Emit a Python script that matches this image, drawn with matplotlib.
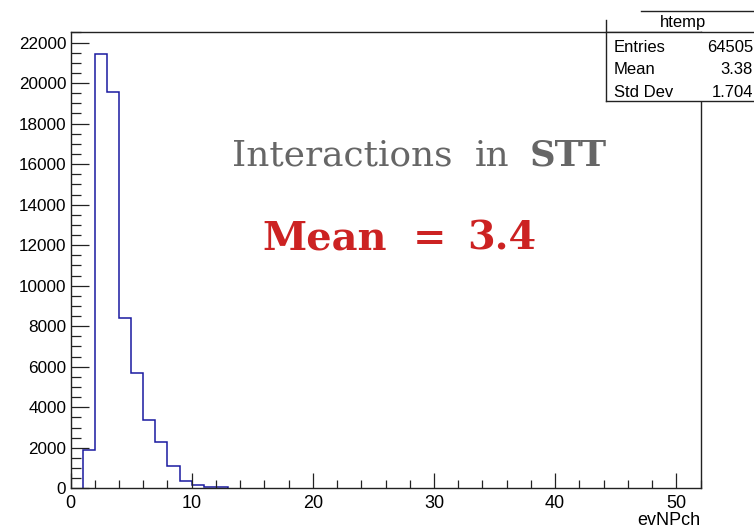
import numpy as np
import matplotlib.pyplot as plt
from matplotlib.patches import Rectangle
from matplotlib.ticker import MultipleLocator

# histogram of evNPch, unit bins starting at 1
bin_lo = 1
counts = [1890, 21450, 19550, 8400, 5670, 3380, 2280, 1110, 370, 180, 65, 65]
x_max = 52

# stats box
stat_names = ["Entries", "Mean", "Std Dev"]
stat_values = ["64505", "3.38", "1.704"]
hist_name = "htemp"
x_title = "evNPch"

W, H = 754, 529
fig = plt.figure(figsize=(W / 100, H / 100), dpi=100)
plt.rcParams['font.family'] = ['Liberation Sans', 'DejaVu Sans']

# frame in pixels: left, right, top, bottom
L, R, T, B = 70.5, 700.5, 32, 488.3
ax = fig.add_axes([L / W, 1 - B / H, (R - L) / W, (B - T) / H])

edges = np.arange(bin_lo, bin_lo + len(counts) + 1)
ax.stairs(counts, edges, baseline=0, color='#1a1aa0', linewidth=1.1)

ax.set_xlim(0, x_max)
ax.set_ylim(0, 1.05 * max(counts))
ax.xaxis.set_major_locator(MultipleLocator(10))
ax.xaxis.set_minor_locator(MultipleLocator(2))
ax.yaxis.set_major_locator(MultipleLocator(2000))
ax.yaxis.set_minor_locator(MultipleLocator(500))
ax.tick_params(axis='x', which='major', direction='in', length=10.8, width=0.9,
               labelsize=13, pad=5, color='#222222')
ax.tick_params(axis='x', which='minor', direction='in', length=5.5, width=0.9, color='#222222')
ax.tick_params(axis='y', which='major', direction='in', length=13, width=0.9,
               labelsize=12.3, pad=3, color='#222222')
ax.tick_params(axis='y', which='minor', direction='in', length=7.2, width=0.9, color='#222222')
for s in ax.spines.values():
    s.set_linewidth(1.0)
    s.set_color('#222222')

# overlay in pixel units for the stats box and the captions
ov = fig.add_axes([0, 0, 1, 1], zorder=5)
ov.set_xlim(0, W)
ov.set_ylim(H, 0)
ov.axis('off')

ov.add_patch(Rectangle((606, 32), W - 606, 69, facecolor='white', edgecolor='none'))
ov.plot([641, W], [10.7, 10.7], color='#222222', lw=1.0)
ov.plot([606, W], [32, 32], color='#222222', lw=1.0)
ov.plot([606, W], [101, 101], color='#222222', lw=1.0)
ov.plot([606, 606], [20, 101], color='#222222', lw=1.0)
ov.text(683, 27, hist_name, ha='center', va='baseline', fontsize=12)
for k, (n, v) in enumerate(zip(stat_names, stat_values)):
    yb = 51.7 + 22.5 * k
    ov.text(614, yb, n, ha='left', va='baseline', fontsize=12)
    ov.text(753, yb, v, ha='right', va='baseline', fontsize=12)

ov.text(R, 525, x_title, ha='right', va='baseline', fontsize=13)

serif = ['DejaVu Serif']
grey = '#666666'
ov.text(232, 165.7, "Interactions", ha='left', va='baseline', fontsize=25.8,
        family=serif, color=grey)
ov.text(475, 165.7, "in", ha='left', va='baseline', fontsize=25.8,
        family=serif, color=grey)
ov.text(530, 165.7, "STT", ha='left', va='baseline', fontsize=25.6,
        family=serif, color=grey, weight='bold')

red = '#cc2222'
ov.text(262, 250, "Mean", ha='left', va='baseline', fontsize=28.8,
        family=serif, color=red, weight='bold')
ov.text(413, 250, "=", ha='left', va='baseline', fontsize=28.8,
        family=serif, color=red, weight='bold')
ov.text(467, 250, "3.4", ha='left', va='baseline', fontsize=28.5,
        family=serif, color=red, weight='bold')

fig.savefig('out.png', dpi=100)
